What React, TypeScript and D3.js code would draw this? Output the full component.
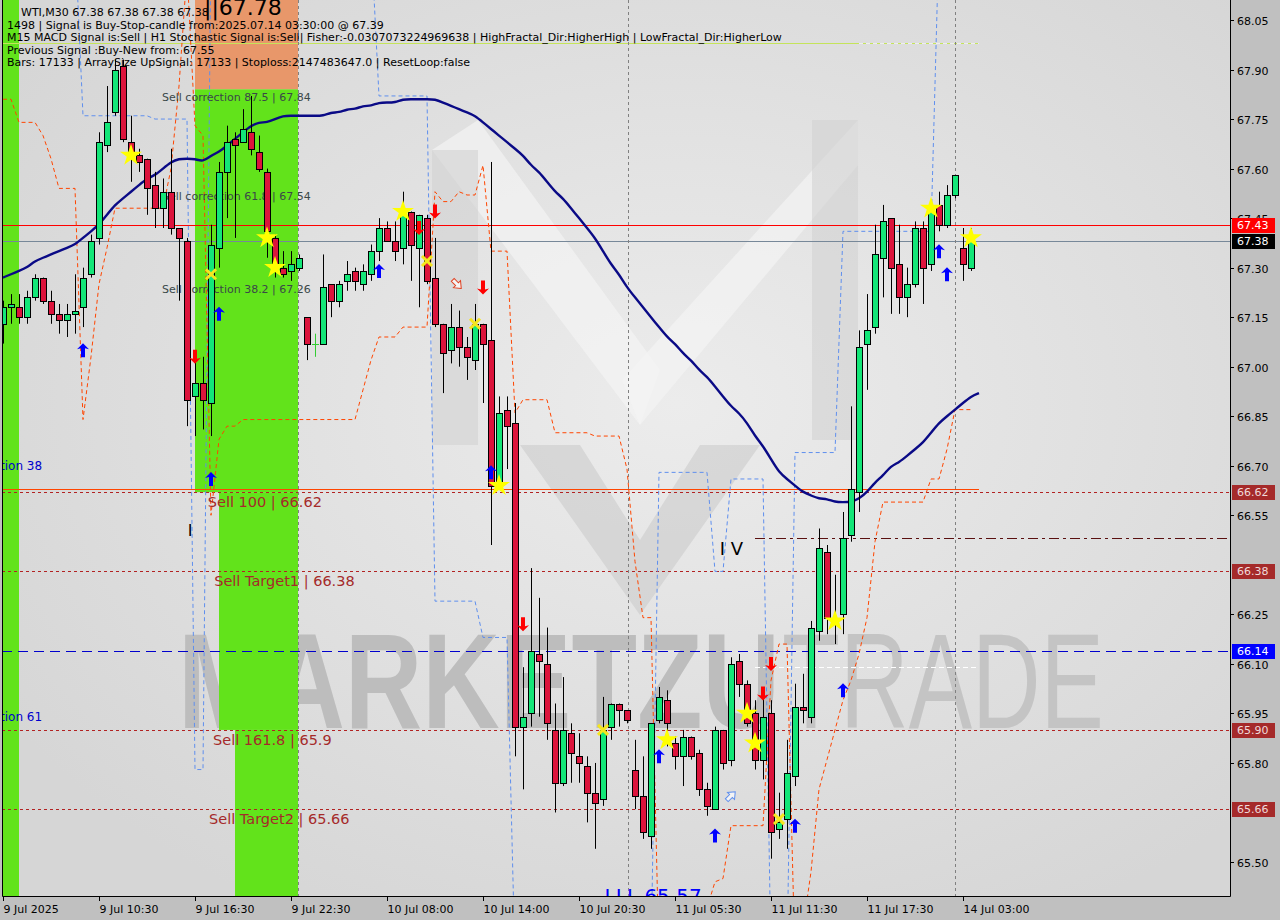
import * as d3 from 'd3'
import { useEffect, useRef } from 'react'

// WTI M30 candles
const openP = [67.13,67.18,67.18,67.15,67.21,67.27,67.20,67.16,67.14,67.16,
  67.18,67.28,67.39,67.67,67.77,67.91,67.68,67.64,67.63,67.55,
  67.48,67.53,67.42,67.38,66.91,66.95,66.89,67.36,67.59,67.69,
  67.68,67.71,67.65,67.59,67.39,67.30,67.29,67.30,67.15,67.07,
  67.07,67.25,67.20,67.26,67.29,67.25,67.28,67.35,67.42,67.38,
  67.36,67.47,67.36,67.45,67.27,67.13,67.05,67.12,67.06,67.02,
  67.13,67.08,66.64,66.87,66.83,65.91,65.95,66.13,66.10,65.90,
  65.74,65.89,65.82,65.79,65.71,65.69,65.91,65.98,65.96,65.78,
  65.70,65.58,65.93,65.99,65.86,65.82,65.88,65.83,65.72,65.66,
  65.90,65.81,66.11,66.04,65.95,65.81,65.95,65.60,65.63,65.76,
  65.97,65.94,66.20,66.44,66.24,66.25,66.49,66.62,67.07,67.12,
  67.33,67.45,67.31,67.21,67.25,67.42,67.31,67.49,67.43,67.52,
  67.36,67.30]
const highP = [67.20,67.22,67.22,67.23,67.28,67.27,67.23,67.19,67.19,67.28,
  67.30,67.40,67.71,67.85,67.93,67.93,67.76,67.66,67.63,67.59,
  67.57,67.66,67.42,67.39,67.04,67.03,67.43,67.62,67.73,67.71,
  67.78,67.82,67.70,67.60,67.40,67.35,67.35,67.34,67.15,67.10,
  67.34,67.25,67.26,67.32,67.30,67.31,67.37,67.45,67.44,67.44,
  67.53,67.47,67.46,67.46,67.39,67.13,67.19,67.17,67.09,67.19,
  67.13,67.62,66.91,66.91,66.89,66.09,66.39,66.30,66.21,65.98,
  66.06,65.92,65.89,65.82,65.80,66.00,65.98,65.98,65.96,65.87,
  65.82,65.92,66.03,66.02,65.88,65.90,65.88,65.84,65.74,65.91,
  65.90,66.12,66.13,66.05,65.99,66.02,65.99,65.71,65.87,66.04,
  66.07,66.23,66.51,66.46,66.37,66.56,66.88,67.11,67.22,67.43,
  67.49,67.45,67.43,67.30,67.44,67.44,67.50,67.53,67.55,67.58,
  67.42,67.42]
const lowP = [67.07,67.13,67.13,67.13,67.20,67.19,67.13,67.10,67.09,67.10,
  67.12,67.27,67.37,67.65,67.76,67.68,67.56,67.59,67.46,67.42,
  67.42,67.40,67.20,66.82,66.79,66.81,66.79,67.30,67.45,67.39,
  67.68,67.64,67.59,67.33,67.27,67.27,67.26,67.29,67.02,67.03,
  67.07,67.15,67.18,67.23,67.23,67.23,67.26,67.32,67.38,67.32,
  67.31,67.26,67.18,67.25,67.12,66.92,67.01,67.00,66.96,66.99,
  66.89,66.46,66.64,66.69,65.82,65.72,65.91,65.94,65.87,65.65,
  65.73,65.74,65.74,65.62,65.54,65.67,65.87,65.91,65.92,65.66,
  65.57,65.54,65.92,65.85,65.78,65.73,65.81,65.70,65.64,65.66,
  65.78,65.79,66.00,65.91,65.78,65.75,65.51,65.57,65.54,65.73,
  65.92,65.92,66.17,66.19,66.16,66.19,66.47,66.56,66.93,67.10,
  67.21,67.16,67.16,67.15,67.24,67.19,67.29,67.41,67.42,67.51,
  67.26,67.29]
const closeP = [67.18,67.19,67.15,67.21,67.27,67.20,67.16,67.14,67.16,67.17,
  67.27,67.38,67.68,67.74,67.90,67.69,67.65,67.62,67.54,67.48,
  67.53,67.42,67.39,66.90,66.95,66.90,67.37,67.59,67.68,67.67,
  67.72,67.66,67.60,67.41,67.30,67.28,67.31,67.33,67.07,67.07,
  67.24,67.20,67.25,67.28,67.26,67.29,67.35,67.42,67.38,67.35,
  67.46,67.37,67.46,67.26,67.13,67.04,67.12,67.06,67.03,67.13,
  67.07,66.64,66.86,66.82,65.91,65.94,66.14,66.11,65.92,65.74,
  65.90,65.83,65.80,65.71,65.68,65.90,65.98,65.96,65.93,65.70,
  65.59,65.92,66.00,65.92,65.82,65.88,65.82,65.72,65.67,65.90,
  65.80,66.10,66.04,65.92,65.81,65.94,65.59,65.62,65.77,65.97,
  65.96,66.21,66.45,66.24,66.22,66.48,66.63,67.06,67.11,67.34,
  67.44,67.30,67.21,67.25,67.42,67.30,67.47,67.43,67.52,67.58,
  67.31,67.38]

// moving average (one bar longer than the candles)
const maLine = [67.27,67.28,67.29,67.30,67.32,67.33,67.34,67.35,67.36,67.37,
  67.39,67.41,67.43,67.46,67.49,67.51,67.53,67.55,67.57,67.58,
  67.60,67.62,67.63,67.63,67.63,67.62,67.64,67.65,67.67,67.69,
  67.71,67.73,67.74,67.74,67.75,67.76,67.76,67.76,67.76,67.76,
  67.76,67.77,67.77,67.78,67.78,67.79,67.79,67.80,67.80,67.80,
  67.81,67.81,67.81,67.81,67.81,67.80,67.79,67.78,67.77,67.76,
  67.74,67.72,67.70,67.68,67.66,67.64,67.61,67.59,67.56,67.53,
  67.51,67.48,67.45,67.42,67.39,67.35,67.31,67.28,67.24,67.21,
  67.18,67.15,67.12,67.09,67.07,67.04,67.02,66.99,66.97,66.94,
  66.91,66.88,66.86,66.83,66.79,66.76,66.72,66.68,66.66,66.64,
  66.62,66.61,66.60,66.60,66.59,66.59,66.59,66.60,66.62,66.65,
  66.67,66.70,66.71,66.73,66.75,66.77,66.80,66.83,66.85,66.87,
  66.89,66.91,66.92]

// blue dashed step line (values beyond the frame are clipped)
const upperBand = [68.30,68.30,68.30,68.30,68.30,68.30,68.30,68.30,68.30,68.30,
  67.76,67.76,67.76,67.76,67.76,67.76,67.76,67.76,67.76,67.75,
  67.75,67.75,67.75,67.75,65.78,65.78,68.30,68.30,68.30,68.30,
  68.30,68.30,68.30,68.30,68.30,68.30,68.30,68.30,68.30,68.30,
  68.30,68.30,68.30,68.30,68.30,68.30,68.30,67.82,67.82,67.82,
  67.82,67.82,67.82,67.82,66.29,66.29,66.29,66.29,66.29,66.29,
  66.18,66.18,66.18,66.18,65.20,65.20,65.20,65.20,65.20,65.20,
  65.20,65.20,65.20,65.20,65.20,65.20,65.20,65.20,65.20,65.20,
  65.20,65.20,66.68,66.68,66.68,66.68,66.68,66.68,66.68,66.38,
  66.38,66.66,66.66,66.66,66.66,66.66,65.20,65.20,65.20,66.74,
  66.74,66.74,66.74,66.74,66.74,67.41,67.41,67.41,67.41,67.41,
  67.41,67.41,67.41,67.41,67.41,67.41,67.41,68.30,68.30,68.30,
  68.30,68.30]

// orange dashed step line
const lowerBand = [67.81,67.81,67.74,67.74,67.74,67.70,67.63,67.54,67.54,67.54,
  66.84,67.03,67.25,67.36,67.48,67.48,67.48,67.48,67.48,67.48,
  67.48,67.60,67.85,68.20,67.73,67.70,66.55,66.78,66.82,66.82,
  66.84,66.84,66.84,66.84,66.84,66.84,66.84,66.84,66.84,66.84,
  66.84,66.84,66.84,66.84,66.84,66.93,67.02,67.09,67.09,67.09,
  67.12,67.12,67.12,67.12,67.53,67.50,67.50,67.53,67.52,67.52,
  67.61,67.35,67.35,67.35,66.86,66.90,66.90,66.90,66.90,66.80,
  66.80,66.80,66.80,66.80,66.79,66.79,66.79,66.79,66.69,66.41,
  66.24,66.24,65.20,65.20,65.20,65.20,65.20,65.20,65.36,65.44,
  65.45,65.61,65.61,65.61,65.61,65.61,66.05,66.16,66.16,65.20,
  65.30,65.47,65.72,65.81,65.90,65.99,66.05,66.13,66.24,66.47,
  66.59,66.59,66.59,66.59,66.59,66.59,66.66,66.66,66.75,66.87,
  66.87,66.87]

const priceTicks = [68.05, 67.90, 67.75, 67.60, 67.45, 67.30, 67.15, 67.00, 66.85,
  66.70, 66.55, 66.25, 66.10, 65.95, 65.80, 65.50]
const timeLabels = ['9 Jul 2025', '9 Jul 10:30', '9 Jul 16:30', '9 Jul 22:30', '10 Jul 08:00',
  '10 Jul 14:00', '10 Jul 20:30', '11 Jul 05:30', '11 Jul 11:30', '11 Jul 17:30', '14 Jul 03:00']
const timeLabelBars = [0, 12, 24, 36, 48, 60, 72, 84, 96, 108, 120]
const separatorBars = [36.9, 78.1, 119]

const tagPrices = [67.43, 67.38, 66.62, 66.38, 66.14, 65.90, 65.66]
const tagColors = ['#ff0000', '#000000', '#a52a2a', '#a52a2a', '#0000ff', '#a52a2a', '#a52a2a']

const starBars = [16, 33, 34, 50, 62, 83, 93, 94, 104, 116, 121]
const starPrices = [67.64, 67.39, 67.30, 67.47, 66.64, 65.87, 65.95, 65.86, 66.23, 67.48, 67.39]
const crossBars = [26, 53, 59, 75, 97]
const crossPrices = [67.28, 67.32, 67.13, 65.90, 65.63]
const upBars = [10, 26, 27, 47, 61, 82, 89, 99, 105, 117, 118]
const upPrices = [67.05, 66.66, 67.16, 67.29, 66.68, 65.82, 65.58, 65.61, 66.02, 67.35, 67.28]
const downBars = [24, 52, 54, 60, 65, 95, 96]
const downPrices = [67.03, 67.42, 67.47, 67.24, 66.22, 66.01, 66.10]

const corrLabels = ['Sell correction 87.5 | 67.84', 'Sell correction 61.8 | 67.54', 'Sell correction 38.2 | 67.26']
const corrPrices = [67.84, 67.54, 67.26]
const sellLabels = ['Sell 100 | 66.62', 'Sell Target1 | 66.38', 'Sell 161.8 | 65.9', 'Sell Target2 | 65.66']
const sellPrices = [66.62, 66.38, 65.90, 65.66]
const sellLabelBars = [25.6, 26.4, 26.25, 25.75]

const headerLines = [
  'WTI,M30  67.38 67.38 67.38 67.38',
  '1498 | Signal is Buy-Stop-candle from:2025.07.14 03:30:00 @ 67.39',
  'M15 MACD Signal is:Sell | H1 Stochastic Signal is:Sell| Fisher:-0.0307073224969638 | HighFractal_Dir:HigherHigh | LowFractal_Dir:HigherLow',
  'Previous Signal :Buy-New from: 67.55',
  'Bars: 17133 | ArraySize UpSignal: 17133 | Stoploss:2147483647.0 | ResetLoop:false',
]

const FONT = 'DejaVu Sans, Liberation Sans, sans-serif'

export default function App() {
  const svgRef = useRef<SVGSVGElement>(null)

  useEffect(() => {
    document.body.style.margin = '0'
    const svg = d3.select(svgRef.current)
    svg.selectAll('*').remove()

    const L = 2, R = 1230, B = 896
    const x = d3.scaleLinear().domain([0, 121]).range([3, 971])
    const y = d3.scaleLinear().domain([65.5, 68.05]).range([862, 20])

    svg.append('rect').attr('width', 1280).attr('height', 920).attr('fill', '#c0c0c0')

    const defs = svg.append('defs')
    defs.append('clipPath').attr('id', 'plotClip')
      .append('rect').attr('x', L).attr('y', 0).attr('width', R - L).attr('height', B)
    const grad = defs.append('radialGradient').attr('id', 'bgGrad')
      .attr('cx', '55%').attr('cy', '45%').attr('r', '65%')
    grad.append('stop').attr('offset', '0%').attr('stop-color', '#ececec')
    grad.append('stop').attr('offset', '100%').attr('stop-color', '#d6d6d6')

    const g = svg.append('g').attr('clip-path', 'url(#plotClip)')
    g.append('rect').attr('x', L).attr('y', 0).attr('width', R - L).attr('height', B).attr('fill', 'url(#bgGrad)')

    // watermark logo
    const wm = g.append('g')
    wm.append('polygon').attr('points', '432,150 478,120 660,370 640,425').attr('fill', '#f4f4f4').attr('opacity', 0.7)
    wm.append('polygon').attr('points', '858,120 858,165 640,425 622,380').attr('fill', '#f4f4f4').attr('opacity', 0.7)
    wm.append('rect').attr('x', 432).attr('y', 150).attr('width', 46).attr('height', 295).attr('fill', '#d2d2d2').attr('opacity', 0.6)
    wm.append('rect').attr('x', 812).attr('y', 120).attr('width', 46).attr('height', 320).attr('fill', '#d2d2d2').attr('opacity', 0.6)
    wm.append('polygon').attr('points', '520,445 580,445 640,540 700,445 760,445 640,615').attr('fill', '#cbcbcb').attr('opacity', 0.6)
    wm.append('text').attr('x', 178).attr('y', 728).attr('font-family', 'Liberation Sans, sans-serif')
      .attr('font-weight', 'bold').attr('font-size', 136).attr('fill', '#bdbdbd')
      .attr('textLength', 602).attr('lengthAdjust', 'spacingAndGlyphs').text('MARKETZU')
    wm.append('text').attr('x', 782).attr('y', 728).attr('font-family', 'Liberation Sans, sans-serif')
      .attr('font-size', 136).attr('fill', '#c4c4c4')
      .attr('textLength', 322).attr('lengthAdjust', 'spacingAndGlyphs').text('TRADE')

    // zones
    g.append('rect').attr('x', L).attr('y', 0).attr('width', x(2) - L).attr('height', B).attr('fill', '#62e31b')
    const zx0 = x(24), zx1 = x(36.875)
    g.append('rect').attr('x', zx0).attr('y', 0).attr('width', zx1 - zx0).attr('height', y(67.84)).attr('fill', '#e8976a')
    g.append('rect').attr('x', zx0).attr('y', y(67.84)).attr('width', zx1 - zx0).attr('height', y(66.62) - y(67.84)).attr('fill', '#62e31b')
    g.append('rect').attr('x', x(27)).attr('y', y(66.62)).attr('width', zx1 - x(27)).attr('height', y(65.90) - y(66.62)).attr('fill', '#62e31b')
    g.append('rect').attr('x', x(29)).attr('y', y(65.90)).attr('width', zx1 - x(29)).attr('height', B - y(65.90)).attr('fill', '#62e31b')

    // horizontal levels
    const hline = (p: number, b0: number | null, b1: number | null, color: string, dash: string | null, w = 1) => {
      const yy = Math.round(y(p)) + 0.5
      const ln = g.append('line').attr('x1', b0 === null ? L : x(b0)).attr('x2', b1 === null ? R : x(b1))
        .attr('y1', yy).attr('y2', yy).attr('stroke', color).attr('stroke-width', w)
      if (dash) ln.attr('stroke-dasharray', dash)
    }
    hline(67.98, null, 122, '#c4e45a', null)
    hline(67.98, 107, 122, '#eeeeee', '4,3')
    hline(67.43, null, null, '#ff0000', null)
    hline(67.38, null, null, '#778899', null)
    hline(66.63, null, 122, '#ff4500', null)
    sellPrices.forEach(p => hline(p, null, null, '#b22222', '3,3'))
    hline(66.14, null, null, '#0000cd', '10,6')
    hline(66.48, 94, null, '#5a1010', '10,4,3,4')
    hline(66.09, 94, 122, '#ffffff', '5,3')

    separatorBars.forEach(b => {
      const xx = Math.round(x(b)) + 0.5
      g.append('line').attr('x1', xx).attr('x2', xx).attr('y1', 0).attr('y2', B)
        .attr('stroke', '#808080').attr('stroke-dasharray', '3,3')
    })

    // bands
    const band = d3.line<number>().x((_, i) => x(i)).y(d => y(d))
    g.append('path').attr('d', band(upperBand)).attr('fill', 'none').attr('stroke', '#5f8fee').attr('stroke-dasharray', '4,3')
    g.append('path').attr('d', band(lowerBand)).attr('fill', 'none').attr('stroke', '#ff4500').attr('stroke-dasharray', '4,3')

    // moving average
    const ma = d3.line<number>().x((_, i) => x(i)).y(d => y(d)).curve(d3.curveBasis)
    g.append('path').attr('d', ma(maLine)).attr('fill', 'none').attr('stroke', '#0a0a86').attr('stroke-width', 2.4)

    // text over zones
    corrLabels.forEach((t, i) => {
      g.append('text').attr('x', 162).attr('y', y(corrPrices[i]) + 12).attr('font-family', FONT)
        .attr('font-size', 11).attr('fill', '#3a4848').text(t)
    })
    sellLabels.forEach((t, i) => {
      g.append('text').attr('x', x(sellLabelBars[i])).attr('y', y(sellPrices[i]) + 15).attr('font-family', FONT)
        .attr('font-size', 14.5).attr('fill', '#a52a2a').text(t)
    })
    g.append('text').attr('x', 0).attr('y', y(66.70) + 4).attr('font-family', FONT).attr('font-size', 12).attr('fill', '#0000cd').text('tion 38')
    g.append('text').attr('x', 0).attr('y', y(65.94) + 4).attr('font-family', FONT).attr('font-size', 12).attr('fill', '#0000cd').text('tion 61')
    g.append('text').attr('x', x(23.1)).attr('y', y(66.51) + 7).attr('font-family', FONT).attr('font-size', 16).attr('fill', '#000').text('I')
    g.append('text').attr('x', x(89.6)).attr('y', y(66.45) + 7).attr('font-family', FONT).attr('font-size', 18).attr('fill', '#000').text('I V')
    g.append('text').attr('x', x(75.2)).attr('y', 903).attr('font-family', FONT).attr('font-size', 20).attr('fill', '#0000ff').text('LLL 65.57')

    // candles
    const candles = g.append('g')
    openP.forEach((o, i) => {
      const c = closeP[i]
      const xi = Math.round(x(i))
      const doji = Math.abs(o - c) < 0.001
      candles.append('line').attr('x1', xi + 0.5).attr('x2', xi + 0.5)
        .attr('y1', y(highP[i])).attr('y2', y(lowP[i]))
        .attr('stroke', doji ? '#32cd32' : '#000').attr('stroke-width', 1)
      if (doji) {
        candles.append('line').attr('x1', xi - 3).attr('x2', xi + 4).attr('y1', Math.round(y(o)) + 0.5).attr('y2', Math.round(y(o)) + 0.5)
          .attr('stroke', '#32cd32')
        return
      }
      const top = Math.round(y(Math.max(o, c)))
      const bot = Math.round(y(Math.min(o, c)))
      candles.append('rect').attr('x', xi - 2.5).attr('y', top + 0.5).attr('width', 6).attr('height', Math.max(1, bot - top))
        .attr('fill', c > o ? '#14e678' : '#dc143c').attr('stroke', '#000').attr('stroke-width', 1)
    })

    // markers
    const mk = g.append('g')
    const star = d3.symbol().type(d3.symbolStar).size(150)()
    starBars.forEach((b, i) => {
      mk.append('path').attr('d', star).attr('transform', `translate(${x(b)},${y(starPrices[i])})`).attr('fill', '#ffff00')
    })
    crossBars.forEach((b, i) => {
      const cx = x(b), cy = y(crossPrices[i])
      mk.append('path').attr('d', `M${cx - 5},${cy - 5}L${cx + 5},${cy + 5}M${cx + 5},${cy - 5}L${cx - 5},${cy + 5}`)
        .attr('stroke', '#f5e61e').attr('stroke-width', 3)
    })
    const arrow = 'M0,-7L6,-1L2,-2L2,7L-2,7L-2,-2L-6,-1Z'
    upBars.forEach((b, i) => {
      mk.append('path').attr('d', arrow).attr('transform', `translate(${x(b)},${y(upPrices[i])})`).attr('fill', '#0000ff')
    })
    downBars.forEach((b, i) => {
      mk.append('path').attr('d', arrow).attr('transform', `translate(${x(b)},${y(downPrices[i])}) rotate(180)`).attr('fill', '#ff0000')
    })
    const hollow = 'M0,-6L5,0L2,0L2,6L-2,6L-2,0L-5,0Z'
    mk.append('path').attr('d', hollow).attr('transform', `translate(${x(56.75)},${y(67.25)}) rotate(135)`)
      .attr('fill', '#f4f4f4').attr('stroke', '#e04020')
    mk.append('path').attr('d', hollow).attr('transform', `translate(${x(91)},${y(65.70)}) rotate(45)`)
      .attr('fill', '#f4f4f4').attr('stroke', '#5f8fee')

    // header text
    headerLines.forEach((t, i) => {
      svg.append('text').attr('x', i === 0 ? 21 : 7).attr('y', 16 + i * 12.5).attr('font-family', FONT)
        .attr('font-size', 11).attr('fill', '#000').text(t)
    })
    svg.append('text').attr('x', 204).attr('y', 15).attr('font-family', FONT).attr('font-size', 22).attr('fill', '#000').text('||67.78')

    // frame
    svg.append('path').attr('d', `M${L + 0.5},0V${B + 0.5}H${R + 0.5}V0`).attr('fill', 'none').attr('stroke', '#000')

    // price axis
    priceTicks.forEach(p => {
      const yy = Math.round(y(p)) + 0.5
      svg.append('line').attr('x1', R).attr('x2', R + 4).attr('y1', yy).attr('y2', yy).attr('stroke', '#000')
      svg.append('text').attr('x', 1237).attr('y', yy + 4).attr('font-family', FONT).attr('font-size', 11).attr('fill', '#000').text(p.toFixed(2))
    })
    tagPrices.forEach((p, i) => {
      const yy = Math.round(y(p))
      svg.append('rect').attr('x', R + 2).attr('y', yy - 7).attr('width', 43).attr('height', 15).attr('fill', tagColors[i])
      svg.append('text').attr('x', 1237).attr('y', yy + 4).attr('font-family', FONT).attr('font-size', 11)
        .attr('fill', tagColors[i] === '#a52a2a' ? '#f0dada' : '#ffffff').text(p.toFixed(2))
    })

    // time axis
    timeLabelBars.forEach((b, i) => {
      const xx = Math.round(x(b)) + 0.5
      svg.append('line').attr('x1', xx).attr('x2', xx).attr('y1', B).attr('y2', B + 5).attr('stroke', '#000')
      svg.append('text').attr('x', xx).attr('y', B + 17).attr('font-family', FONT).attr('font-size', 11).attr('fill', '#000').text(timeLabels[i])
    })
  }, [])

  return <svg ref={svgRef} width={1280} height={920} style={{ display: 'block' }} />
}
